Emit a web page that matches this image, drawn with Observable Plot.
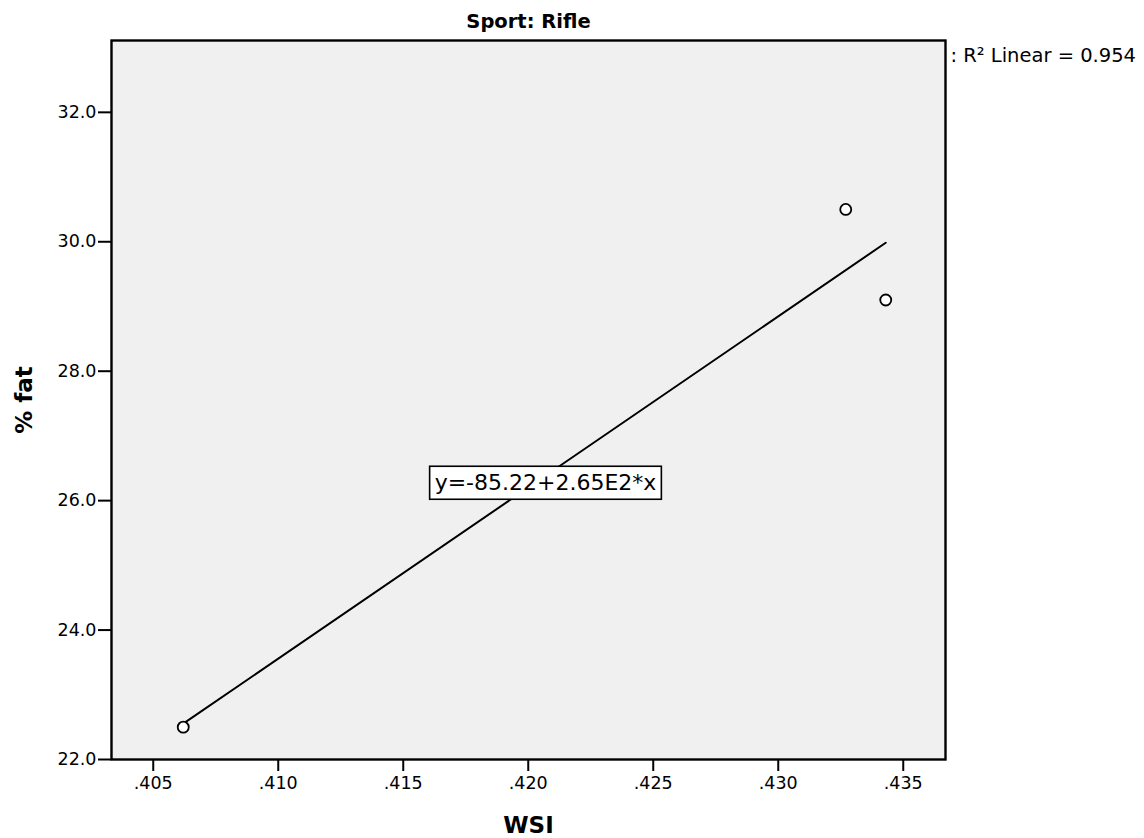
<!DOCTYPE html>
<html>
<head>
<meta charset="utf-8">
<script src="https://cdn.jsdelivr.net/npm/d3@7"></script>
<script src="https://cdn.jsdelivr.net/npm/@observablehq/plot@0.6"></script>
<style>
  html, body { margin: 0; padding: 0; background: #fff; }
  #chart svg { display: block; }
</style>
</head>
<body>
<div id="chart"></div>
<script>
// ---- data ----
const wsi = [0.4062, 0.4327, 0.4343];
const pctFat = [22.5, 30.5, 29.1];
const xTicks = [0.405, 0.410, 0.415, 0.420, 0.425, 0.430, 0.435];
const yTicks = [22.0, 24.0, 26.0, 28.0, 30.0, 32.0];
const titleText = "Sport: Rifle";
const xLabel = "WSI";
const yLabel = "% fat";
const legendText = ": R² Linear = 0.954";
const equationText = "y=-85.22+2.65E2*x";

const data = wsi.map((x, i) => ({x, y: pctFat[i]}));

// midpoint of fitted line (for equation label), computed from data
const mx = d3.mean(data, d => d.x), my = d3.mean(data, d => d.y);
const sxy = d3.sum(data, d => (d.x - mx) * (d.y - my));
const sxx = d3.sum(data, d => (d.x - mx) ** 2);
const slope = sxy / sxx, intercept = my - slope * mx;
const [x0, x1] = d3.extent(data, d => d.x);
const xm = (x0 + x1) / 2;
const eqLabel = [{x: xm, y: intercept + slope * xm, text: equationText}];

const font = "DejaVu Sans, Verdana, sans-serif";

const plot = Plot.plot({
  width: 1144,
  height: 838,
  marginTop: 40,
  marginBottom: 79,
  marginLeft: 111,
  marginRight: 199,
  style: {fontFamily: font, fontSize: "17px", background: "#fff", color: "#000"},
  x: {domain: [0.40333, 0.43669]},
  y: {domain: [22, 33.11]},
  marks: [
    Plot.frame({fill: "#f0f0f0", stroke: "none"}),
    Plot.axisX({ticks: xTicks, tickFormat: d => d3.format(".3f")(d).replace(/^0/, ""),
      tickSize: 12, tickPadding: 5, strokeWidth: 2, label: null, fontSize: 17.5}),
    Plot.axisY({ticks: yTicks, tickFormat: d3.format(".1f"),
      tickSize: 13, tickPadding: 2, strokeWidth: 2, label: null, fontSize: 17.5}),
    Plot.linearRegressionY(data, {x: "x", y: "y", ci: 0, stroke: "#000", strokeWidth: 2}),
    Plot.dot(data, {x: "x", y: "y", r: 5.5, fill: "#fff", stroke: "#000", strokeWidth: 1.8}),
    Plot.text(eqLabel, {x: "x", y: "y", text: "text", dx: 11, fontSize: 22, fill: "#000",
      textAnchor: "middle", lineAnchor: "middle"}),
    Plot.frame({stroke: "#000", strokeWidth: 2.4}),
    Plot.text([titleText], {frameAnchor: "top", dy: -13, lineAnchor: "bottom",
      fontWeight: "bold", fontSize: 19.5, fill: "#000"}),
    Plot.text([legendText], {frameAnchor: "top-right", dx: 5, dy: 8, textAnchor: "start",
      lineAnchor: "top", fontSize: 19.5, fill: "#000"}),
    Plot.text([xLabel], {frameAnchor: "bottom", dy: 66, lineAnchor: "middle",
      fontWeight: "bold", fontSize: 23, fill: "#000"}),
    Plot.text([yLabel], {frameAnchor: "left", dx: -87, rotate: -90, lineAnchor: "middle",
      textAnchor: "middle", fontWeight: "bold", fontSize: 23, fill: "#000"})
  ]
});

document.getElementById("chart").appendChild(plot);

// draw box behind equation label
for (const t of plot.querySelectorAll("text")) {
  if (t.textContent === equationText) {
    const bb = t.getBBox();
    const rect = document.createElementNS("http://www.w3.org/2000/svg", "rect");
    const padX = 5, padY = 6;
    rect.setAttribute("x", bb.x - padX);
    rect.setAttribute("y", bb.y - padY + 2);
    rect.setAttribute("width", bb.width + 2 * padX);
    rect.setAttribute("height", bb.height + 2 * padY - 4);
    rect.setAttribute("fill", "#fff");
    rect.setAttribute("stroke", "#000");
    rect.setAttribute("stroke-width", 1.6);
    const tr = t.getAttribute("transform");
    if (tr) rect.setAttribute("transform", tr);
    t.parentNode.insertBefore(rect, t);
  }
}
</script>
</body>
</html>
